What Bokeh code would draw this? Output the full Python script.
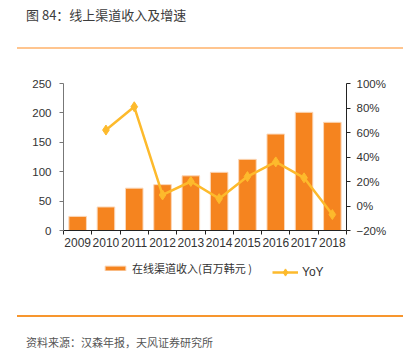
from bokeh.plotting import figure
from bokeh.models import (Range1d, LinearAxis, FixedTicker, Legend, LegendItem,
                          ColumnDataSource, CustomJSTickFormatter, Div)
from bokeh.layouts import column
from bokeh.embed import file_html
from bokeh.resources import INLINE

years = ["2009", "2010", "2011", "2012", "2013", "2014", "2015", "2016", "2017", "2018"]
revenue = [24, 40, 72, 78, 93, 99, 121, 164, 201, 184]
yoy_years = ["2010", "2011", "2012", "2013", "2014", "2015", "2016", "2017", "2018"]
yoy = [62, 81, 9, 20, 6, 24, 36, 23, -7]
left_ticks = [0, 50, 100, 150, 200, 250]
right_ticks = [-20, 0, 20, 40, 60, 80, 100]

title_text = "图 84：线上渠道收入及增速"
source_text = "资料来源：汉森年报，天风证券研究所"
bar_name = "在线渠道收入(百万韩元 )"
line_name = "YoY"

CJK = "Noto Sans CJK SC"
LAT = "Liberation Sans"
W = 412
BL, BR = 63, 66
BAR_COLOR = "#F5841F"
BAR_EDGE = "#FBD7B8"
LINE_COLOR = "#FDBA2C"

# ---------- header ----------
header = Div(width=W, height=53, margin=0, text=(
    f'<div style="position:relative;width:{W}px;height:53px;">'
    f'<div style="position:absolute;left:26px;top:5px;font-family:\'{CJK}\';font-size:13px;'
    f'line-height:20px;color:#3c3c3c;white-space:nowrap;">{title_text}</div>'
    f'<div style="position:absolute;left:17px;top:47px;width:386px;height:2px;background:#FFC58F;"></div>'
    f'</div>'))

# ---------- main chart ----------
xpos = [i + 0.5 for i in range(len(years))]
ypos = [years.index(y) + 0.5 for y in yoy_years]
bar_src = ColumnDataSource(dict(x=xpos, top=revenue))
line_src = ColumnDataSource(dict(x=ypos, y=yoy))

p = figure(width=W, height=199, x_range=Range1d(0, len(years)), y_range=Range1d(0, 250),
           output_backend="svg", toolbar_location=None,
           min_border_left=BL, min_border_right=BR, min_border_top=30, min_border_bottom=22)
p.outline_line_color = None
p.grid.visible = False
p.extra_y_ranges = {"pct": Range1d(-20, 100)}

p.vbar(x="x", top="top", width=0.62, source=bar_src, fill_color=BAR_COLOR,
       line_color=BAR_EDGE, line_width=1)
p.line(x="x", y="y", source=line_src, y_range_name="pct", line_color=LINE_COLOR, line_width=2.5)
p.scatter(x="x", y="y", source=line_src, y_range_name="pct", marker="diamond", size=10,
          fill_color=LINE_COLOR, line_color=LINE_COLOR)

xa = p.xaxis[0]
xa.ticker = FixedTicker(ticks=xpos, minor_ticks=list(range(len(years) + 1)))
xa.major_label_overrides = {x: y for x, y in zip(xpos, years)}
xa.major_tick_out = 0
xa.major_tick_in = 0
xa.minor_tick_out = 4
xa.minor_tick_in = 0
xa.minor_tick_line_color = "#222222"
xa.axis_line_color = "#222222"
xa.major_label_text_font = LAT
xa.major_label_text_font_size = "12px"
xa.major_label_text_color = "#333333"
xa.major_label_standoff = 3

ya = p.yaxis[0]
ya.ticker = FixedTicker(ticks=left_ticks)
ya.major_tick_out = 4
ya.major_tick_in = 0
ya.minor_tick_line_color = None
ya.axis_line_color = "#777777"
ya.major_tick_line_color = "#777777"
ya.major_label_text_font = LAT
ya.major_label_text_font_size = "11.5px"
ya.major_label_text_color = "#333333"
ya.major_label_standoff = 8

ra = LinearAxis(y_range_name="pct", ticker=FixedTicker(ticks=right_ticks),
                formatter=CustomJSTickFormatter(code="return (tick < 0 ? '\u2212' + (-tick) : tick) + '%';"))
ra.major_tick_out = 4
ra.major_tick_in = 0
ra.minor_tick_line_color = None
ra.axis_line_color = "#222222"
ra.major_tick_line_color = "#222222"
ra.major_label_text_font = LAT
ra.major_label_text_font_size = "11.5px"
ra.major_label_text_color = "#333333"
ra.major_label_standoff = 6
p.add_layout(ra, "right")

# ---------- legend strip (same sources, drawn outside its visible range) ----------
lg = figure(width=W, height=32, x_range=Range1d(0, 1), y_range=Range1d(1000, 1001),
            output_backend="svg", toolbar_location=None,
            x_axis_location=None, y_axis_location=None,
            min_border_left=BL, min_border_right=BR, min_border_top=0, min_border_bottom=0)
lg.outline_line_color = None
lg.grid.visible = False
lb = lg.vbar(x="x", top="top", width=0.6, source=bar_src, fill_color=BAR_COLOR, line_color=BAR_EDGE)
ll = lg.line(x="x", y="y", source=line_src, line_color=LINE_COLOR, line_width=2.5)
ls = lg.scatter(x="x", y="y", source=line_src, marker="diamond", size=9,
                fill_color=LINE_COLOR, line_color=LINE_COLOR)
common = dict(orientation="horizontal", glyph_width=26, label_standoff=4, padding=0, margin=0,
              border_line_color=None, background_fill_alpha=0, label_text_color="#333333")
legend1 = Legend(items=[LegendItem(label=bar_name, renderers=[lb])],
                 location=(39, 8), glyph_height=6, label_height=6,
                 label_text_font=CJK, label_text_font_size="11px", **common)
legend2 = Legend(items=[LegendItem(label=line_name, renderers=[ll, ls])],
                 location=(209, 3), glyph_height=18, label_height=18,
                 label_text_font=LAT, label_text_font_size="12px", **common)
lg.add_layout(legend1, "center")
lg.add_layout(legend2, "center")

# ---------- footer ----------
footer = Div(width=W, height=70, margin=0, text=(
    f'<div style="position:relative;width:{W}px;height:70px;">'
    f'<div style="position:absolute;left:17px;top:31px;width:386px;height:1.5px;background:#F7962E;"></div>'
    f'<div style="position:absolute;left:26px;top:50px;font-family:\'{CJK}\';font-size:11px;'
    f'line-height:16px;color:#555555;white-space:nowrap;">{source_text}</div>'
    f'</div>'))

layout = column(header, p, lg, footer, spacing=0)
open("out.html", "w").write(file_html(layout, INLINE))
